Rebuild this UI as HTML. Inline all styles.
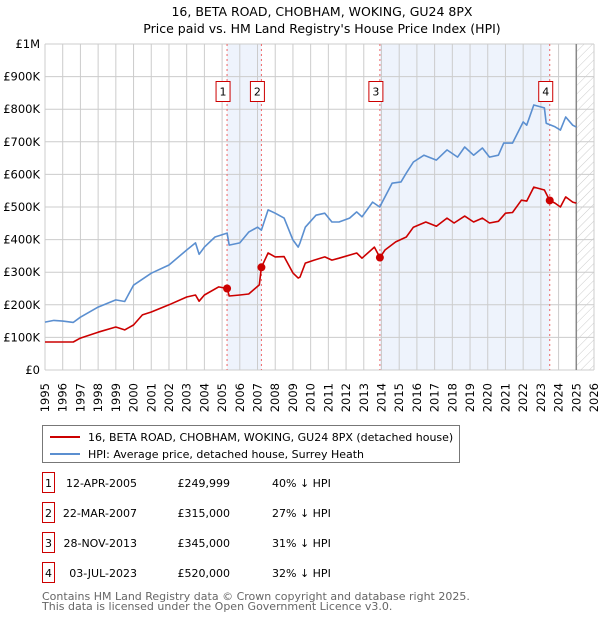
<!DOCTYPE html>
<html><head><meta charset="utf-8"><style>
body{margin:0;background:#fff;font-family:"Liberation Sans","DejaVu Sans",sans-serif;}
svg{display:block}
text{font-family:"DejaVu Sans","Liberation Sans",sans-serif;}
</style></head><body>
<svg id="chart" width="600" height="620" viewBox="0 0 600 620">
<defs><pattern id="hatch" width="6" height="6" patternUnits="userSpaceOnUse" patternTransform="rotate(45)"><line x1="0" y1="0" x2="0" y2="6" stroke="#ccc" stroke-width="1"/></pattern></defs>
<text x="322" y="16" text-anchor="middle" font-size="12.5" fill="#000">16, BETA ROAD, CHOBHAM, WOKING, GU24 8PX</text>
<text x="322" y="33" text-anchor="middle" font-size="12.5" fill="#000">Price paid vs. HM Land Registry's House Price Index (HPI)</text>
<g id="plot"></g>
<g>
<rect x="42.5" y="425.5" width="417" height="37" fill="#fff" stroke="#777"/>
<line x1="50" y1="437" x2="80" y2="437" stroke="#cc0000" stroke-width="2"/>
<text x="88" y="441" font-size="11">16, BETA ROAD, CHOBHAM, WOKING, GU24 8PX (detached house)</text>
<line x1="50" y1="454" x2="80" y2="454" stroke="#5b8fd0" stroke-width="2"/>
<text x="88" y="458" font-size="11">HPI: Average price, detached house, Surrey Heath</text>
</g>
<g id="table"></g>
<text x="42" y="600" font-size="11" fill="#666">Contains HM Land Registry data © Crown copyright and database right 2025.</text>
<text x="42" y="610" font-size="11" fill="#666">This data is licensed under the Open Government Licence v3.0.</text>
</svg>
<script>
const hpiYears=[1995,1995.5,1996,1996.6,1997,1998,1999,1999.5,2000,2001,2002,2003,2003.5,2003.7,2004,2004.6,2005.28,2005.4,2006,2006.5,2007,2007.22,2007.6,2008,2008.5,2009,2009.3,2009.4,2009.7,2010.3,2010.8,2011.2,2011.6,2012.2,2012.6,2012.9,2013.5,2013.9,2014.6,2015.1,2015.4,2015.8,2016.4,2017.1,2017.7,2018.3,2018.7,2019.2,2019.7,2020.1,2020.6,2020.9,2021.4,2022.0,2022.2,2022.6,2023.2,2023.3,2023.8,2024.1,2024.4,2024.8,2025.0];
const hpiValues=[147,152,150,146,162,193,215,210,260,297,322,368,390,355,377,408,420,383,390,423,438,429,491,481,466,399,377,390,438,475,481,454,454,466,485,470,515,500,573,577,604,638,659,644,675,653,684,659,681,653,659,696,696,761,751,813,804,757,746,736,776,751,745];
const redYears=[1995,1996.6,1997,1998,1999,1999.5,2000,2000.5,2001,2002,2003,2003.5,2003.7,2004,2004.8,2005.28,2005.4,2006,2006.5,2007.1,2007.22,2007.6,2008,2008.5,2009,2009.3,2009.4,2009.7,2010.2,2010.8,2011.2,2011.6,2012.6,2012.9,2013.6,2013.91,2014.2,2014.8,2015.4,2015.8,2016.5,2017.1,2017.7,2018.1,2018.7,2019.2,2019.7,2020.1,2020.6,2021.0,2021.4,2021.9,2022.2,2022.6,2023.2,2023.5,2023.8,2024.1,2024.4,2024.8,2025.0];
const redValues=[86,86,98,116,132,123,138,169,178,200,224,230,211,230,255,250,227,230,233,261,315,359,347,348,298,282,285,328,337,347,337,343,359,343,377,345,368,393,408,438,454,441,466,451,472,454,466,451,456,481,483,521,518,561,552,520,512,500,531,515,512];
const saleYears=[2005.28,2007.22,2013.91,2023.50];
const saleValues=[249999,315000,345000,520000];
const saleLabels=["1","2","3","4"];
const saleDates=["12-APR-2005","22-MAR-2007","28-NOV-2013","03-JUL-2023"];
const salePrices=["£249,999","£315,000","£345,000","£520,000"];
const saleDiffs=["40% ↓ HPI","27% ↓ HPI","31% ↓ HPI","32% ↓ HPI"];
const yTicks=[0,100,200,300,400,500,600,700,800,900,1000];
const yTickLabels=["£0","£100K","£200K","£300K","£400K","£500K","£600K","£700K","£800K","£900K","£1M"];
const xStart=1995,xEnd=2026,dataEnd=2025.0;

const L=45,R=594,T=44,B=370;
const xs=y=>L+(y-xStart)/(xEnd-xStart)*(R-L);
const ys=v=>B-v/1000*(B-T);
const NS="http://www.w3.org/2000/svg";
const plot=document.getElementById('plot');
function mk(tag,attrs,parent){const e=document.createElementNS(NS,tag);for(const k in attrs)e.setAttribute(k,attrs[k]);(parent||plot).appendChild(e);return e;}

for(let i=0;i<saleYears.length;i+=2){
  const r=mk('rect',{x:xs(saleYears[i]),y:T,width:xs(saleYears[i+1])-xs(saleYears[i]),height:B-T,fill:'#eef3fc'});
  
  
}
const h=mk('rect',{x:xs(dataEnd),y:T,width:R-xs(dataEnd),height:B-T,fill:'url(#hatch)'});


for(let y=xStart;y<=xEnd;y++){
  const g=mk('line',{x1:xs(y),x2:xs(y),y1:T,y2:B,stroke:'#ccc','stroke-width':1});
  
  
  const t=mk('text',{transform:`translate(${xs(y)+4},383) rotate(-90)`,'text-anchor':'end','font-size':'11.5'});
  t.textContent=y;
  
  
}
yTicks.forEach((v,i)=>{
  const g=mk('line',{x1:L,x2:R,y1:ys(v),y2:ys(v),stroke:'#ccc','stroke-width':1});
  
  
  const t=mk('text',{x:40,y:ys(v)+4,'text-anchor':'end','font-size':'11.5'});
  t.textContent=yTickLabels[i];
  
  
});
const dl=mk('line',{x1:xs(dataEnd),x2:xs(dataEnd),y1:T,y2:B,stroke:'#888','stroke-width':1.5});


saleYears.forEach((sy,i)=>{
  const l=mk('line',{x1:xs(sy),x2:xs(sy),y1:T,y2:B,stroke:'#e66','stroke-width':1,'stroke-dasharray':'2,3'});
  
  
});
function path(xa,va){return xa.map((x,i)=>(i?'L':'M')+xs(x).toFixed(1)+','+ys(va[i]).toFixed(1)).join('');}
const hp=mk('path',{d:path(hpiYears,hpiValues),fill:'none',stroke:'#5b8fd0','stroke-width':1.6,'stroke-linejoin':'round'});


const rp=mk('path',{d:path(redYears,redValues),fill:'none',stroke:'#cc0000','stroke-width':1.6,'stroke-linejoin':'round'});


saleYears.forEach((sy,i)=>{
  const c=mk('circle',{cx:xs(sy),cy:ys(saleValues[i]/1000),r:4,fill:'#cc0000'});
  
  
  const bx=xs(sy)-4;
  const r=mk('rect',{x:bx-7,y:81.5,width:14,height:20,fill:'#fff',stroke:'#cc0000'});
  
  
  const t=mk('text',{x:bx,y:95.5,'text-anchor':'middle','font-size':'11'});
  t.textContent=saleLabels[i];
  
  
});
const tb=document.getElementById('table');
saleLabels.forEach((s,i)=>{
  const y=483+i*30;
  const r=mk('rect',{x:42.5,y:y-10.5,width:12,height:20,fill:'#fff',stroke:'#cc0000'},tb);
  
  
  const cells=[[48.5,s,'middle'],[137,saleDates[i],'end'],[230,salePrices[i],'end'],[272,saleDiffs[i],'start']];
  cells.forEach(c=>{
    const t=mk('text',{x:c[0],y:y+4,'text-anchor':c[2],'font-size':'11'},tb);
    t.textContent=c[1];
    
    
  });
});
</script>
</body></html>
